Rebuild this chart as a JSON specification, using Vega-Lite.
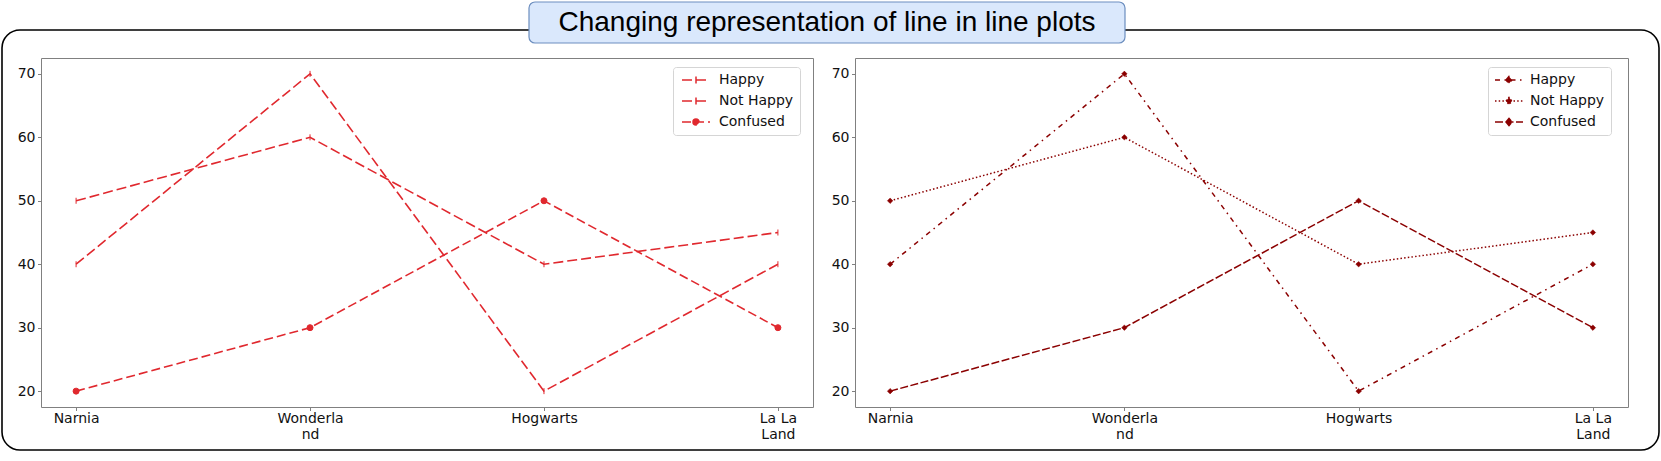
{
  "$schema": "https://vega.github.io/schema/vega-lite/v6.json",
  "width": 1657,
  "height": 420,
  "autosize": {"type": "none"},
  "padding": {"left": 2, "top": 30, "right": 2, "bottom": 11},
  "background": "white",
  "data": {
    "values": [
      {"place": "Narnia", "series": "Happy", "value": 40},
      {"place": "Wonderland", "series": "Happy", "value": 70},
      {"place": "Hogwarts", "series": "Happy", "value": 20},
      {"place": "La La Land", "series": "Happy", "value": 40},
      {"place": "Narnia", "series": "Not Happy", "value": 50},
      {"place": "Wonderland", "series": "Not Happy", "value": 60},
      {"place": "Hogwarts", "series": "Not Happy", "value": 40},
      {"place": "La La Land", "series": "Not Happy", "value": 45},
      {"place": "Narnia", "series": "Confused", "value": 20},
      {"place": "Wonderland", "series": "Confused", "value": 30},
      {"place": "Hogwarts", "series": "Confused", "value": 50},
      {"place": "La La Land", "series": "Confused", "value": 30}
    ]
  },
  "config": {
    "view": {"stroke": "#000000", "strokeWidth": 1.6, "cornerRadius": 18, "fill": "white"},
    "axis": {
      "grid": false, "title": null,
      "domainColor": "#808080", "domainWidth": 1,
      "tickColor": "#808080", "tickWidth": 1, "tickSize": 3.5,
      "labelFont": "DejaVu Sans", "labelFontSize": 14, "labelColor": "#111111",
      "labelOverlap": false, "labelFlush": false
    }
  },
  "layer": [
    {
      "layer": [
        {
          "mark": {"type": "line", "color": "#e0282e", "strokeWidth": 1.6},
          "encoding": {
            "x": {
              "field": "place", "type": "nominal",
              "scale": {"domain": ["Narnia", "Wonderland", "Hogwarts", "La La Land"], "range": [39, 811], "padding": 0.15},
              "axis": {"orient": "bottom", "offset": -43, "labelAngle": 0, "labelPadding": 1, "labelLineHeight": 16,
                "labelExpr": "datum.value === 'Wonderland' ? ['Wonderla', 'nd'] : datum.value === 'La La Land' ? ['La La', 'Land'] : datum.label"}
            },
            "y": {
              "field": "value", "type": "quantitative",
              "scale": {"domain": [17.5, 72.5], "range": [377, 28], "nice": false, "zero": false},
              "axis": {"orient": "left", "offset": -39, "values": [20, 30, 40, 50, 60, 70], "labelPadding": 2.5}
            },
            "strokeDash": {
              "field": "series", "type": "nominal",
              "scale": {"domain": ["Happy", "Not Happy", "Confused"], "range": [[10, 4], [10, 4], [9, 4]]},
              "legend": {
                "orient": "none", "legendX": 671, "legendY": 37, "direction": "vertical", "title": null,
                "symbolType": "M-2.8,0L2.8,0", "symbolSize": 100, "symbolStrokeWidth": 1.5,
                "symbolStrokeColor": "#e0282e", "symbolFillColor": "#e0282e",
                "labelFont": "DejaVu Sans", "labelFontSize": 14, "labelColor": "#111111",
                "fillColor": "white", "strokeColor": "#d5d5d5", "cornerRadius": 3,
                "padding": 6, "rowPadding": 7, "labelOffset": 16, "symbolOffset": 10,
                "encode": {"symbols": {"update": {
                  "shape": {"signal": "datum.value === 'Confused' ? 'M-2.8,0L2.8,0M-0.6,0A0.6,0.6,0,1,1,0.6,0A0.6,0.6,0,1,1,-0.6,0' : 'M-2.8,0L2.8,0M0,-0.7L0,0.7'"},
                  "fill": {"value": "#e0282e"}, "stroke": {"value": "#e0282e"}, "strokeWidth": {"value": 1.5}, "opacity": {"value": 1}
                }}}
              }
            },
            "order": {"value": null}
          }
        },
        {
          "mark": {"type": "point", "filled": true, "fill": "#e0282e", "stroke": "#e0282e", "strokeWidth": 1, "opacity": 1, "size": 36},
          "encoding": {
            "x": {"field": "place", "type": "nominal", "axis": {"orient": "top", "offset": -28, "labels": false, "ticks": false}},
            "y": {"field": "value", "type": "quantitative", "axis": {"orient": "right", "offset": -846, "labels": false, "ticks": false}},
            "shape": {"condition": {"test": "datum.series === 'Confused'", "value": "circle"}, "value": "M0,-1L0,1"},
            "detail": {"field": "series", "type": "nominal"}
          }
        }
      ],
      "resolve": {"axis": {"x": "independent", "y": "independent"}}
    },
    {
      "layer": [
        {
          "mark": {"type": "line", "color": "#8b0000", "strokeWidth": 1.5},
          "encoding": {
            "x": {
              "field": "place", "type": "nominal",
              "scale": {"domain": ["Narnia", "Wonderland", "Hogwarts", "La La Land"], "range": [853, 1626], "padding": 0.15},
              "axis": {"orient": "bottom", "offset": -43, "labelAngle": 0, "labelPadding": 1, "labelLineHeight": 16,
                "labelExpr": "datum.value === 'Wonderland' ? ['Wonderla', 'nd'] : datum.value === 'La La Land' ? ['La La', 'Land'] : datum.label"}
            },
            "y": {
              "field": "value", "type": "quantitative",
              "scale": {"domain": [17.5, 72.5], "range": [377, 28], "nice": false, "zero": false},
              "axis": {"orient": "left", "offset": -853, "values": [20, 30, 40, 50, 60, 70], "labelPadding": 2.5}
            },
            "strokeDash": {
              "field": "series", "type": "nominal",
              "scale": {"domain": ["Happy", "Not Happy", "Confused"], "range": [[5, 4.5, 1.5, 4.5], [1.5, 2.2], [8, 2.5]]},
              "legend": {
                "orient": "none", "legendX": 1486, "legendY": 37, "direction": "vertical", "title": null,
                "symbolType": "M-2.8,0L2.8,0M-0.6,0L0,-0.7L0.6,0L0,0.7Z", "symbolSize": 100, "symbolStrokeWidth": 1.5,
                "symbolStrokeColor": "#8b0000", "symbolFillColor": "#8b0000",
                "labelFont": "DejaVu Sans", "labelFontSize": 14, "labelColor": "#111111",
                "fillColor": "white", "strokeColor": "#d5d5d5", "cornerRadius": 3,
                "padding": 6, "rowPadding": 7, "labelOffset": 14, "symbolOffset": 8,
                "encode": {"symbols": {"update": {
                  "shape": {"value": "M-2.8,0L2.8,0M-0.6,0L0,-0.7L0.6,0L0,0.7Z"},
                  "fill": {"value": "#8b0000"}, "stroke": {"value": "#8b0000"}, "strokeWidth": {"value": 1.5}, "opacity": {"value": 1}
                }}}
              }
            },
            "order": {"value": null}
          }
        },
        {
          "mark": {"type": "point", "shape": "diamond", "filled": true, "fill": "#8b0000", "stroke": "#8b0000", "strokeWidth": 0.5, "opacity": 1, "size": 30},
          "encoding": {
            "x": {"field": "place", "type": "nominal", "axis": {"orient": "top", "offset": -28, "labels": false, "ticks": false}},
            "y": {"field": "value", "type": "quantitative", "axis": {"orient": "right", "offset": -31, "labels": false, "ticks": false}},
            "detail": {"field": "series", "type": "nominal"}
          }
        }
      ],
      "resolve": {"axis": {"x": "independent", "y": "independent"}}
    },
    {
      "data": {"values": [{"t": "Changing representation of line in line plots"}]},
      "layer": [
        {
          "mark": {"type": "rect", "fill": "#dae8fc", "stroke": "#6c8ebf", "strokeWidth": 1.2, "cornerRadius": 6},
          "encoding": {"x": {"value": 527}, "x2": {"value": 1123}, "y": {"value": -28}, "y2": {"value": 13}}
        },
        {
          "mark": {"type": "text", "font": "Liberation Sans", "fontSize": 28, "color": "#000000", "align": "center", "baseline": "middle"},
          "encoding": {"text": {"field": "t"}, "x": {"value": 825}, "y": {"value": -7}}
        }
      ]
    }
  ],
  "resolve": {
    "scale": {"x": "independent", "y": "independent", "strokeDash": "independent"},
    "axis": {"x": "independent", "y": "independent"},
    "legend": {"strokeDash": "independent"}
  }
}
